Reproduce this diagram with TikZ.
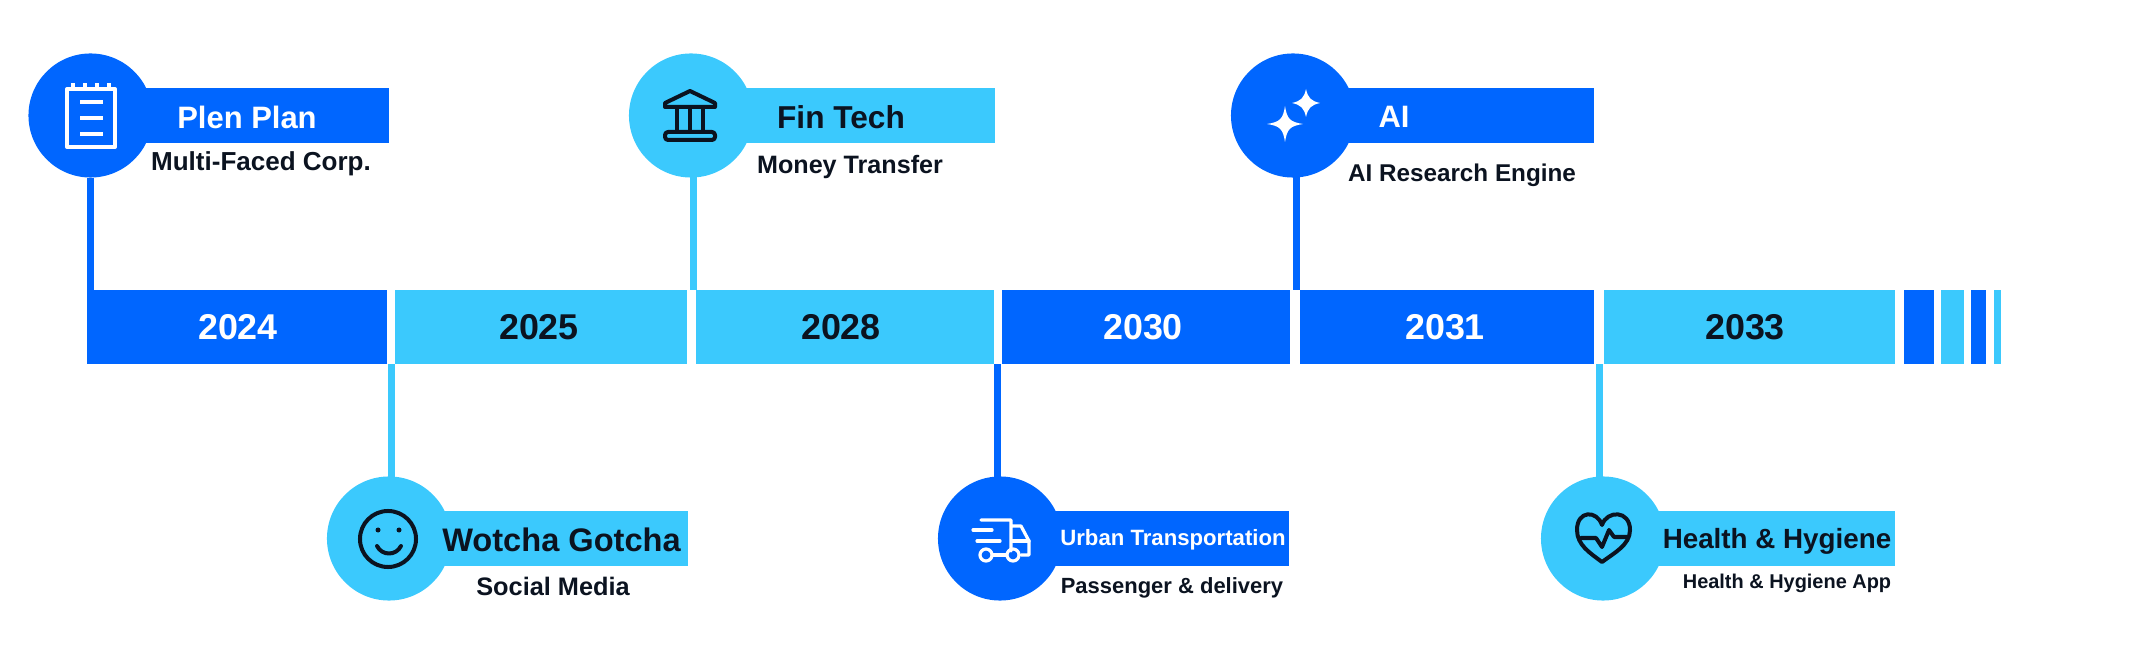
\documentclass[tikz,border=0pt]{standalone}
\usepackage{fontspec}
\setmainfont{Liberation Sans}
\usetikzlibrary{calc}
\definecolor{deepblue}{HTML}{0066FF}
\definecolor{skyblue}{HTML}{3BC9FD}
\definecolor{inkdark}{HTML}{0B1320}
\tikzset{
	yearblue/.style={fill=deepblue,text=white,inner sep=0,outer sep=0,font=\bfseries\fontsize{10.2}{12}\selectfont},
	yearsky/.style={fill=skyblue,text=inkdark,inner sep=0,outer sep=0,font=\bfseries\fontsize{10.2}{12}\selectfont},
	tag/.style={inner sep=0,outer sep=0,text=inkdark,font=\bfseries\fontsize{#1}{#1}\selectfont},
	tagwhite/.style={tag=#1,text=white},
	stem/.style={line width=0.07cm},
	icondark/.style={draw=inkdark,line width=0.04cm,line join=round,line cap=round},
	iconwhite/.style={draw=white,line width=0.04cm,line join=round,line cap=round},
}
\newcommand{\makeyear}[6]{
	\node (#1) at ({(#2+#3)/2},327) [#4,minimum width={(#3-#2)*0.01cm},minimum height=0.74cm] {};
	\node (#1text) at (#5,327) [#4,fill=none] {#6};
}
\newcommand{\makestop}[5]{
	\node (#1band) at ({(#2+#4)/2},#3) [fill=#5,inner sep=0,outer sep=0,minimum width={(#4-#2)*0.01cm},minimum height=0.55cm] {};
	\node (#1) at (#2,#3) [circle,fill=#5,inner sep=0,outer sep=0,minimum size=1.24cm] {};
}
\begin{document}
\begin{tikzpicture}[x=0.01cm,y=-0.01cm]
	\useasboundingbox (0,0) rectangle (2133,646);
	\makeyear{y2024}{87}{387}{yearblue}{238}{2024}
	\makeyear{y2025}{395}{687}{yearsky}{539}{2025}
	\makeyear{y2028}{696}{994}{yearsky}{841}{2028}
	\makeyear{y2030}{1002}{1290}{yearblue}{1143}{2030}
	\makeyear{y2031}{1300}{1594}{yearblue}{1445}{2031}
	\makeyear{y2033}{1604}{1895}{yearsky}{1745}{2033}
	\makeyear{tail1}{1904}{1934}{yearblue}{1919}{}
	\makeyear{tail2}{1941}{1964}{yearsky}{1952}{}
	\makeyear{tail3}{1971}{1986}{yearblue}{1978}{}
	\makeyear{tail4}{1994}{2001}{yearsky}{1997}{}
	\makestop{plen}{90.5}{115.5}{389}{deepblue}
	\makestop{fin}{691}{115.5}{994.5}{skyblue}
	\makestop{ai}{1293}{115.5}{1593.5}{deepblue}
	\makestop{wotcha}{389}{538.5}{688}{skyblue}
	\makestop{urban}{1000}{538.5}{1289}{deepblue}
	\makestop{health}{1603}{538.5}{1895}{skyblue}
	\draw[stem,deepblue] (plen.-90) -- (plen.-90 |- y2024.north);
	\draw[stem,skyblue] (fin.-88) -- (fin.-88 |- y2028.north);
	\draw[stem,deepblue] (ai.-87) -- (ai.-87 |- y2031.north);
	\draw[stem,skyblue] (wotcha.88) -- (wotcha.88 |- y2025.south);
	\draw[stem,deepblue] (urban.92) -- (urban.92 |- y2030.south);
	\draw[stem,skyblue] (health.93) -- (health.93 |- y2033.south);
	\node (plentitle) at (247,117) [tagwhite=8.8] {Plen Plan};
	\node (plensub) at (261,164) [tag=7.4] {Multi-Faced Corp.};
	\node (fintitle) at (841,117) [tag=9] {Fin Tech};
	\node (finsub) at (850,167) [tag=7.15] {Money Transfer};
	\node (aititle) at (1394,117) [tagwhite=8.8] {AI};
	\node (aisub) at (1462,175) [tag=6.9] {AI Research Engine};
	\node (wotchatitle) at (561.5,540) [tag=9.27] {Wotcha Gotcha};
	\node (wotchasub) at (553,586) [tag=7.2] {Social Media};
	\node (urbantitle) at (1173,540) [tagwhite=6.3] {Urban Transportation};
	\node (urbansub) at (1172,588) [tag=6.25] {Passenger \& delivery};
	\node (healthtitle) at (1777,541) [tag=7.9] {Health \& Hygiene};
	\node (healthsub) at (1787,583) [tag=5.67] {Health \& Hygiene App};
	% icons
	\draw[iconwhite,line cap=butt] (67,89) rectangle (115,147);
	\foreach \x in {73,85,97,109} {\draw[iconwhite,line cap=butt] (\x,83.5) -- (\x,89);}
	\foreach \y in {102,118,134} {\draw[iconwhite,line cap=butt] (80,\y) -- (103,\y);}
	\draw[icondark] (690,91) -- (715,103) -- (715,107) -- (665,107) -- (665,103) -- cycle;
	\foreach \x in {677,690,703} {\draw[icondark] (\x,108) -- (\x,132);}
	\draw[icondark,rounded corners=0.03cm] (665,132) rectangle (715,140);
	\fill[white] (1285,106) .. controls (1287,119) and (1290,122) .. (1303,124) .. controls (1290,126) and (1287,129) .. (1285,142) .. controls (1283,129) and (1280,126) .. (1267,124) .. controls (1280,122) and (1283,119) .. (1285,106) -- cycle;
	\fill[white] (1306,89) .. controls (1308,98) and (1311,101) .. (1320,103) .. controls (1311,105) and (1308,108) .. (1306,117) .. controls (1304,108) and (1301,105) .. (1292,103) .. controls (1301,101) and (1304,98) .. (1306,89) -- cycle;
	\draw[icondark] (388,539) circle [radius=0.28cm];
	\fill[inkdark] (378,530) circle [radius=0.025cm] (399,530) circle [radius=0.025cm];
	\draw[icondark] (377,546) .. controls (382,556) and (396,556) .. (401,546);
	\draw[iconwhite,line width=0.032cm] (981,520) -- (1011,520) -- (1011,551) (1011,526) -- (1021,526) -- (1029,541) -- (1029,555) -- (1021,555);
	\draw[iconwhite,line width=0.032cm] (1012,541) -- (1029,541) (973,530) -- (992,530) (977,541) -- (1000,541) (993,555) -- (1006,555);
	\draw[iconwhite,line width=0.032cm] (986,555) circle [radius=0.06cm] (1013,555) circle [radius=0.06cm];
	\draw[icondark] (1602,562) .. controls (1590,553) and (1577,545) .. (1577,530) .. controls (1577,510) and (1597,510) .. (1602,525) .. controls (1607,510) and (1630,510) .. (1630,530) .. controls (1630,545) and (1614,553) .. (1602,562) -- cycle;
	\draw[icondark] (1581,538) -- (1596,538) -- (1602,547) -- (1609,530) -- (1614,537) -- (1628,537);
\end{tikzpicture}
\end{document}
